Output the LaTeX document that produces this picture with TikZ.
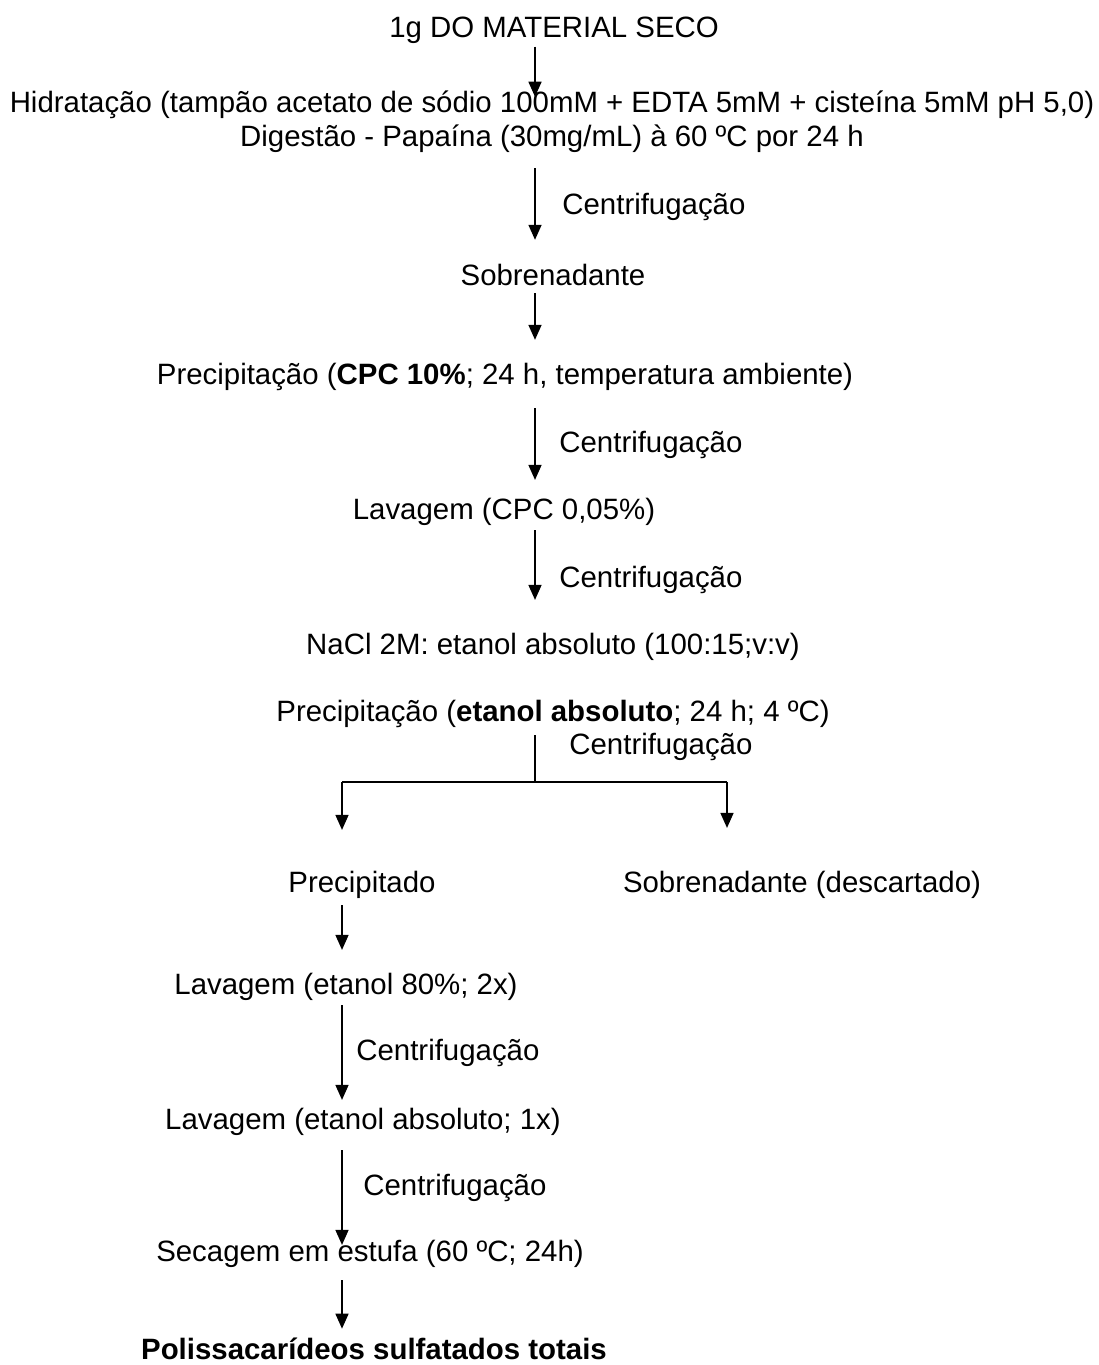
\documentclass[tikz,border=0pt]{standalone}
\usepackage{fontspec}
\setmainfont{Liberation Sans}
\usetikzlibrary{arrows.meta,positioning}
\tikzset{
  stage/.style={inner sep=1pt,align=center,font=\fontsize{14.7}{17}\selectfont},
  cflabel/.style={stage,anchor=west},
  flowarr/.style={-{Triangle[length=7.5pt,width=6.5pt]},line width=0.75pt},
  flowline/.style={line width=0.75pt}
}

\begin{document}
\begin{tikzpicture}[x=0.5pt,y=-0.5pt]
  \useasboundingbox (0,0) rectangle (1098,1365);
  \coordinate (spine) at (535,0);
  \coordinate (lspine) at (342,0);
  \coordinate (rspine) at (727,0);
  \coordinate (split) at (535,782);

  % etapas
  \node[stage] (seco) at (554,30) {1g DO MATERIAL SECO};
  \node[stage] (hidr) at (552,122) {Hidratação (tampão acetato de sódio 100mM + EDTA 5mM + cisteína 5mM pH 5,0)\\Digestão - Papaína (30mg/mL) à 60 ºC por 24 h};
  \node[stage] (sobr) at (553,275) {Sobrenadante};
  \node[stage] (cpc) at (505,377) {Precipitação (\textbf{CPC 10\%}; 24 h, temperatura ambiente)};
  \node[stage] (lavcpc) at (504,512) {Lavagem (CPC 0,05\%)};
  \node[stage] (nacl) at (553,647) {NaCl 2M: etanol absoluto (100:15;v:v)};
  \node[stage] (etanol) at (553,714) {Precipitação (\textbf{etanol absoluto}; 24 h; 4 ºC)};
  \node[stage] (precip) at (362,885) {Precipitado};
  \node[stage] (descarte) at (802,885) {Sobrenadante (descartado)};
  \node[stage] (lav80) at (346,987) {Lavagem (etanol 80\%; 2x)};
  \node[stage] (lavabs) at (363,1122) {Lavagem (etanol absoluto; 1x)};
  \node[stage] (secagem) at (370,1254) {Secagem em estufa (60 ºC; 24h)};
  \node[stage,font=\fontsize{14.7}{17}\selectfont\bfseries] (total) at (374,1349) {Polissacarídeos sulfatados totais};

  % centrifugacoes
  \node[cflabel] (cf1) at (560,207) {Centrifugação};
  \node[cflabel] (cf2) at (557,445) {Centrifugação};
  \node[cflabel] (cf3) at (557,580) {Centrifugação};
  \node[cflabel] (cf4) at (567,747) {Centrifugação};
  \node[cflabel] (cf5) at (354,1053) {Centrifugação};
  \node[cflabel] (cf6) at (361,1188) {Centrifugação};

  \draw[flowarr,shorten <=0.5pt,shorten >=-4pt] (seco.south -| spine) -- (hidr.north -| spine);
  \draw[flowarr,shorten <=6.5pt,shorten >=11pt] (hidr.south -| spine) -- (sobr.north -| spine);
  \draw[flowarr,shorten <=2.5pt,shorten >=10.5pt] (sobr.south -| spine) -- (cpc.north -| spine);
  \draw[flowarr,shorten <=7.5pt,shorten >=8pt] (cpc.south -| spine) -- (lavcpc.north -| spine);
  \draw[flowarr,shorten <=1pt,shorten >=15.5pt] (lavcpc.south -| spine) -- (nacl.north -| spine);

  \draw[flowline,shorten <=2.5pt] (etanol.south -| spine) -- (split);
  \draw[flowline] (split -| lspine) -- (split -| rspine);
  \draw[flowarr,shorten >=19.5pt] (split -| lspine) -- (precip.north -| lspine);
  \draw[flowarr,shorten >=20.5pt] (split -| rspine) -- (descarte.north -| rspine);

  \draw[flowarr,shorten <=2pt,shorten >=10.5pt] (precip.south -| lspine) -- (lav80.north -| lspine);
  \draw[flowarr,shorten <=1pt,shorten >=3pt] (lav80.south -| lspine) -- (lavabs.north -| lspine);
  \draw[flowarr,shorten <=6pt,shorten >=-3.5pt] (lavabs.south -| lspine) -- (secagem.north -| lspine);
  \draw[flowarr,shorten <=5pt,shorten >=3.5pt] (secagem.south -| lspine) -- (total.north -| lspine);
\end{tikzpicture}
\end{document}
